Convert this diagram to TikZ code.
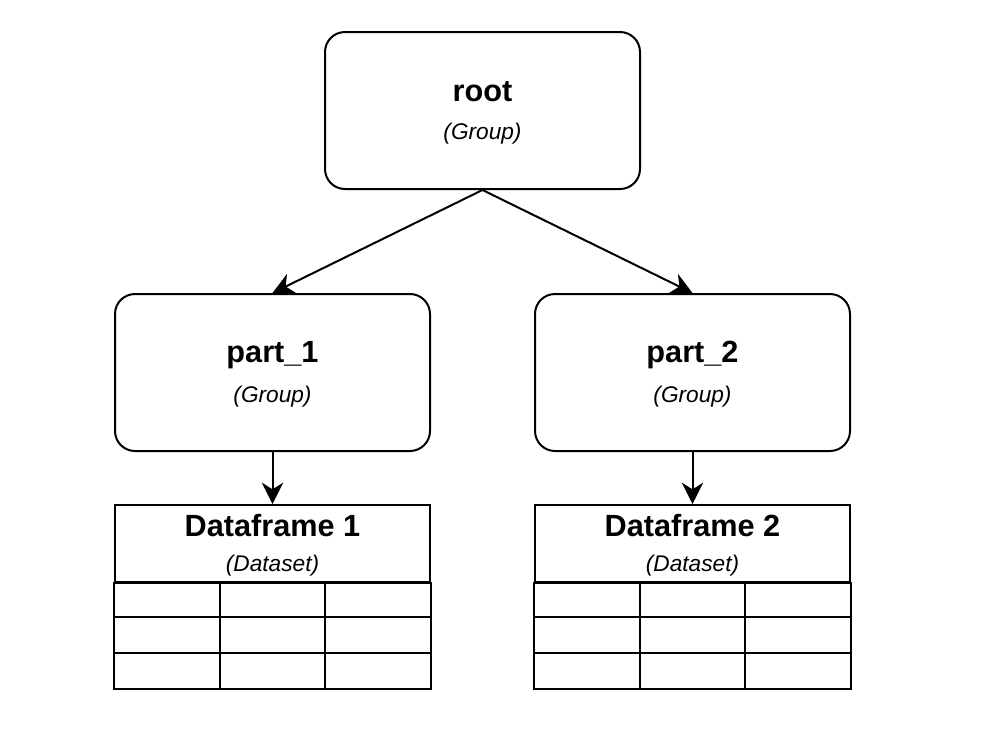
\documentclass[tikz,border=0pt]{standalone}
\usepackage{fontspec}
\setmainfont{Liberation Sans}
\usetikzlibrary{arrows.meta,positioning}

\begin{document}
\begin{tikzpicture}[
  x=0.75pt,y=-0.75pt,
  grp/.style ={draw,rounded corners=15pt,line width=1.5pt,minimum width=236.25pt,minimum height=117.75pt,inner sep=0pt},
  hdr/.style ={draw,line width=1.5pt,minimum width=236.25pt,minimum height=57.75pt,inner sep=0pt},
  cell/.style={draw,line width=1.5pt},
  ttl/.style ={font=\fontsize{23}{27}\selectfont\bfseries,inner sep=0pt},
  typ/.style ={font=\fontsize{17}{20}\selectfont\itshape,inner sep=0pt},
  a/.style   ={-{Stealth[length=16pt,width=16pt,inset=5pt]},line width=1.5pt},
]
\useasboundingbox (0,0) rectangle (1004,733);

% groups
\node[grp] (root) at (482.5,110.5) {};
\node[ttl] (rootT) at (482.5,92) {root};
\node[typ] (rootS) at (482.5,133.5) {(Group)};

\node[grp] (part1) at (272.5,372.5) {};
\node[ttl] (part1T) at (272.5,355) {part\_1};
\node[typ] (part1S) at (272.5,396.5) {(Group)};

\node[grp] (part2) at (692.5,372.5) {};
\node[ttl] (part2T) at (692.5,355) {part\_2};
\node[typ] (part2S) at (692.5,396.5) {(Group)};

% datasets
\foreach \i/\cx in {1/272.5,2/692.5}
  {\node[hdr] (df\i) at (\cx,543.5) {};
   \node[ttl] (df\i T) at (\cx,526) {Dataframe \i};
   \node[typ] (df\i S) at (\cx,566) {(Dataset)};
   \draw[cell] (df\i.south west) rectangle ([yshift=-79.5pt]df\i.south east);
   \foreach \dx in {-52.5,52.5}
     \draw[cell] (\cx+\dx,582) -- (\cx+\dx,688);
   \foreach \y in {617.3,652.7}
     \draw[cell] (\cx-157.5,\y) -- (\cx+157.5,\y);}

\draw[a] (root.south) -- (part1.north);
\draw[a] (root.south) -- (part2.north);
\draw[a] (part1) -- (df1);
\draw[a] (part2) -- (df2);
\end{tikzpicture}
\end{document}
